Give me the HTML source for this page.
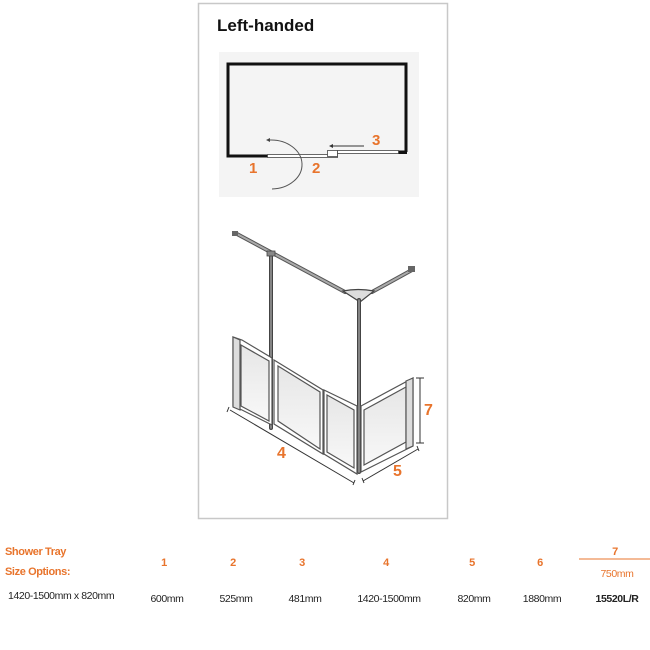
<!DOCTYPE html>
<html><head><meta charset="utf-8"><style>
html,body{margin:0;padding:0;background:#fff;}
svg{display:block;font-family:"Liberation Sans",sans-serif;}
</style></head><body>
<svg width="650" height="650" viewBox="0 0 650 650" xmlns="http://www.w3.org/2000/svg">
<defs><linearGradient id="g" x1="0" y1="0" x2="0" y2="1"><stop offset="0" stop-color="#e6e6e6"/><stop offset="1" stop-color="#f8f8f8"/></linearGradient></defs>
<rect x="198.5" y="3.5" width="249" height="515" fill="#fff" stroke="#c8c8c8" stroke-width="1.5"/>
<text x="217" y="31" font-size="17" font-weight="bold" fill="#111">Left-handed</text>
<rect x="219" y="52" width="200" height="145" fill="#f4f4f4"/>
<!-- plan -->
<path d="M228 156 V64 H406 V152" fill="none" stroke="#111" stroke-width="3"/>
<rect x="226.5" y="154.5" width="41" height="3" fill="#111"/>
<rect x="398" y="150.5" width="9" height="3.5" fill="#111"/>
<rect x="267.5" y="154.5" width="70" height="3" fill="#fff" stroke="#444" stroke-width="0.8"/>
<rect x="327.5" y="150.5" width="10" height="6" fill="#fff" stroke="#444" stroke-width="0.8"/>
<rect x="337.5" y="150.5" width="61" height="3" fill="#fff" stroke="#444" stroke-width="0.8"/>
<path d="M270 140 A31 24.5 0 0 1 272 189" fill="none" stroke="#555" stroke-width="1"/>
<path d="M266 140 l4 -2 v4z" fill="#444"/>
<path d="M330 146 H364" stroke="#333" stroke-width="1"/>
<path d="M329 146 l4 -2 v4z" fill="#333"/>
<g fill="#e8742c" font-weight="bold" font-size="15">
<text x="249" y="173">1</text><text x="312" y="173">2</text><text x="372" y="145">3</text>
</g>
<!-- 3D frame -->
<g stroke="#444" stroke-linecap="round">
<path d="M237 234 L345 292" stroke="#555" stroke-width="4"/>
<path d="M237 234 L345 292" stroke="#aaa" stroke-width="2"/>
<path d="M372 292 L412 270" stroke="#555" stroke-width="4"/>
<path d="M372 292 L412 270" stroke="#aaa" stroke-width="2"/>
<path d="M343 291 Q358 288 374 291 L360 302 Z" fill="#ddd" stroke-width="1.2"/>
<rect x="232" y="231" width="6" height="5" fill="#666" stroke="none"/>
<rect x="408" y="266" width="7" height="6" fill="#666" stroke="none"/>
<path d="M271 254 V428" stroke="#444" stroke-width="4"/>
<path d="M271 254 V428" stroke="#999" stroke-width="1.5"/>
<path d="M359 300 V472" stroke="#444" stroke-width="4"/>
<path d="M359 300 V472" stroke="#999" stroke-width="1.5"/>
<rect x="267" y="251" width="8" height="5" fill="#888" stroke-width="0.8"/>
</g>
<g stroke="#555" stroke-width="1.2" fill="url(#g)">
<path d="M233 337 L242 340 L272 358 V425 L242 410 L233 406 Z" fill="#fff"/>
<path d="M241 345 L269 361 V421 L241 406 Z"/>
<path d="M274 360 L323 390 V454 L274 424 Z" fill="#fff"/>
<path d="M278 366 L320 392 V449 L278 421 Z"/>
<path d="M324 390 L357 406 V474 L324 454 Z" fill="#fff"/>
<path d="M327 395 L354 410 V468 L327 452 Z"/>
<path d="M361 406 L413 378 V446 L361 472 Z" fill="#fff"/>
<path d="M364 410 L406 387 V442 L364 465 Z"/>
<path d="M406 381 L413 378 V446 L406 449 Z" fill="#ddd"/>
<path d="M233 337 L240 340 V410 L233 407 Z" fill="#ddd"/>
</g>
<!-- dimensions -->
<g stroke="#333" stroke-width="1" fill="none">
<path d="M230 410 L354 483 M229 407 l-2 5 M355 480 l-2 5"/>
<path d="M363 481 L418 449 M362 478 l2 5 M417 446 l2 5"/>
<path d="M420 378 V443 M416 378 h8 M416 443 h8"/>
</g>
<g fill="#e8742c" font-weight="bold" font-size="16">
<text x="277" y="458">4</text><text x="393" y="476">5</text><text x="424" y="415">7</text>
</g>
<!-- table -->
<g font-size="11" font-weight="bold" fill="#e8742c" letter-spacing="-0.4">
<text x="5" y="555">Shower Tray</text>
<text x="5" y="575">Size Options:</text>
<g text-anchor="middle">
<text x="164" y="566">1</text><text x="233" y="566">2</text><text x="302" y="566">3</text>
<text x="386" y="566">4</text><text x="472" y="566">5</text><text x="540" y="566">6</text>
<text x="615" y="555">7</text>
</g>
</g>
<path d="M579 559 H650" stroke="#e8742c" stroke-width="1"/>
<text x="617" y="577" font-size="10.5" fill="#e8742c" text-anchor="middle" letter-spacing="-0.4">750mm</text>
<g font-size="10.5" fill="#222" letter-spacing="-0.4">
<text x="8" y="599">1420-1500mm x 820mm</text>
<g text-anchor="middle">
<text x="167" y="602">600mm</text><text x="236" y="602">525mm</text><text x="305" y="602">481mm</text>
<text x="389" y="602">1420-1500mm</text><text x="474" y="602">820mm</text><text x="542" y="602">1880mm</text>
<text x="617" y="602" font-weight="bold">15520L/R</text>
</g>
</g>
</svg>
</body></html>
